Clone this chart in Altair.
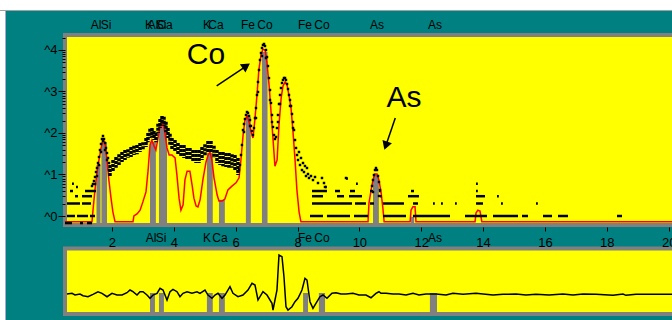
import altair as alt
import pandas as pd

FONT = "Liberation Sans"
TEAL, YELLOW, GRAY, RED = "#008080", "#ffff00", "#808080", "#ff0000"

# ---------------- scale limits (keV, log10 counts) ----------------
X_DOMAIN = [0.4818, 20.108]
V_DOMAIN = [-2.4096, 4.3614]
# residual panel: residual 0 sits at this log-count level, one residual unit = RES_STEP
RES_ZERO_V, RES_STEP = -1.880, 0.24096

x_tick_values = [2, 4, 6, 8, 10, 12, 14, 16, 18, 20]
y_major_values = [0, 1, 2, 3, 4]
y_minor_offsets = [0.301, 0.477, 0.602, 0.699, 0.778, 0.845, 0.903, 0.954]
y_tick_values = y_major_values + [d + o for d in [0, 1, 2, 3] for o in y_minor_offsets] + [4.301]

# ---------------- panels / window edges ----------------
top_strip = {"x1": [-2.5], "x2": [21.5], "y1": [4.952], "y2": [5.325]}
left_strip = {"x1": [-1.781], "x2": [-1.442], "y1": [-2.747], "y2": [4.952]}
main_box = {"x1": [0.482], "x2": [21.01], "y1": [-0.217], "y2": [4.361]}
lower_box = {"x1": [0.482], "x2": [21.01], "y1": [-2.361], "y2": [-0.783]}

# ---------------- fitted spectrum (red) ----------------
red_kev = [0.48, 1.355, 1.387, 1.45, 1.52, 1.58, 1.65, 1.71, 1.77, 1.84, 1.90, 1.97, 2.03, 2.10,
           2.68, 2.71, 2.81, 2.91, 3.00, 3.10, 3.17, 3.23, 3.29, 3.36, 3.42, 3.49, 3.55, 3.65,
           3.71, 3.78, 3.85, 3.94, 4.04, 4.10, 4.17, 4.23, 4.30, 4.36, 4.43, 4.52, 4.59, 4.65,
           4.72, 4.78, 4.85, 4.94, 5.04, 5.11, 5.17, 5.23, 5.30, 5.40, 5.46, 5.56, 5.65, 5.75,
           5.88, 6.01, 6.11, 6.17, 6.24, 6.30, 6.37, 6.43, 6.50, 6.56, 6.62, 6.69, 6.75, 6.82,
           6.88, 6.95, 7.01, 7.08, 7.14, 7.21, 7.27, 7.34, 7.40, 7.47, 7.53, 7.60, 7.66, 7.72,
           7.79, 7.85, 7.92, 7.98, 8.05, 8.11, 10.28, 10.31, 10.38, 10.44, 10.50, 10.57, 10.63,
           10.70, 10.76, 10.80, 11.64, 11.67, 11.73, 11.80, 11.83, 13.74, 13.77, 13.83, 13.90,
           13.96, 20.2]
red_v = [-0.14, -0.14, 0.14, 0.63, 1.06, 1.35, 1.64, 1.83, 1.78, 1.35, 0.87, 0.43, 0.10, -0.14,
         -0.14, 0.0, 0.05, 0.14, 0.34, 0.58, 1.11, 1.71, 1.83, 1.69, 1.59, 1.88, 2.14, 2.24,
         2.02, 1.64, 1.47, 1.47, 1.40, 0.99, 0.43, 0.14, 0.27, 0.87, 1.08, 1.08, 0.75, 0.43,
         0.24, 0.22, 0.39, 0.87, 1.30, 1.47, 1.54, 1.35, 0.92, 0.51, 0.36, 0.36, 0.41, 0.63,
         0.72, 0.80, 0.92, 1.35, 1.95, 2.31, 2.41, 2.27, 2.02, 1.88, 2.31, 2.92, 3.52, 3.88,
         4.02, 4.00, 3.71, 3.16, 2.55, 1.83, 1.20, 1.35, 2.19, 2.84, 3.13, 3.23, 3.16, 2.92,
         2.60, 2.07, 1.35, 0.63, 0.10, -0.14, -0.14, 0.31, 0.63, 0.87, 1.01, 1.01, 0.87,
         0.58, 0.19, -0.14, -0.14, 0.14, 0.22, 0.22, -0.14, -0.14, 0.07, 0.14, 0.12,
         -0.14, -0.14]

# ---------------- element line bars ----------------
bar_lo = [1.50, 1.66, 3.23, 3.52, 5.07, 5.46, 6.33, 6.85, 10.44, 11.67]
bar_hi = [1.63, 1.84, 3.42, 3.78, 5.26, 5.65, 6.49, 7.03, 10.63, 11.77]
bar_top = [1.23, 1.78, 1.78, 2.24, 1.52, 0.39, 2.39, 3.95, 0.99, -0.02]
bar_base = -0.17

lbar_lo = [3.23, 3.52, 5.07, 5.46, 8.18, 8.69, 12.28]
lbar_hi = [3.39, 3.68, 5.26, 5.65, 8.34, 8.89, 12.51]
lbar_top = [0.1, 0.1, 0.1, 0.1, 0.1, 0.1, 0.1]
lbar_base = [-1.8, -1.8, -1.8, -1.8, -1.8, -1.8, -1.8]

# ---------------- measured counts (black dots) ----------------
band_kev = [1.937, 2.034, 2.131, 2.228, 2.325, 2.422, 2.519, 2.616, 2.713, 2.810, 2.907, 3.004,
            3.101, 3.165, 3.230, 3.295, 3.359, 3.424, 3.489, 3.554, 3.618, 3.683, 3.747, 3.812,
            3.877, 3.941, 4.038, 4.135, 4.232, 4.329, 4.426, 4.523, 4.620, 4.717, 4.814, 4.911,
            5.008, 5.105, 5.202, 5.299, 5.396, 5.493, 5.590, 5.687, 5.784, 5.881, 5.978, 6.075]
band_hi = [1.23, 1.35, 1.42, 1.49, 1.54, 1.59, 1.61, 1.66, 1.69, 1.71, 1.76, 1.78,
           1.88, 2.00, 2.10, 2.12, 2.05, 2.00, 2.22, 2.34, 2.41, 2.39, 2.27, 2.12,
           1.98, 1.88, 1.83, 1.76, 1.71, 1.71, 1.64, 1.64, 1.59, 1.59, 1.59, 1.66,
           1.73, 1.81, 1.81, 1.69, 1.59, 1.54, 1.54, 1.52, 1.52, 1.49, 1.47, 1.40]
band_lo = [0.94, 1.06, 1.16, 1.23, 1.30, 1.35, 1.40, 1.42, 1.47, 1.49, 1.54, 1.59,
           1.66, 1.78, 1.88, 1.90, 1.83, 1.78, 2.00, 2.12, 2.22, 2.17, 2.02, 1.88,
           1.71, 1.59, 1.54, 1.47, 1.42, 1.40, 1.35, 1.35, 1.30, 1.28, 1.28, 1.35,
           1.45, 1.54, 1.54, 1.40, 1.28, 1.23, 1.20, 1.18, 1.16, 1.16, 1.11, 0.99]

rise_pts = [(1.355, 0.723), (1.387, 0.771), (1.419, 0.843), (1.452, 0.940), (1.484, 1.060),
            (1.516, 1.157), (1.549, 1.277), (1.581, 1.422), (1.613, 1.590), (1.646, 1.735),
            (1.678, 1.855), (1.710, 1.928), (1.743, 1.855), (1.775, 1.759), (1.807, 1.639),
            (1.840, 1.518), (1.872, 1.398), (1.904, 1.277), (1.452, 0.771), (1.516, 0.964),
            (1.581, 1.229), (1.646, 1.542), (1.710, 1.807), (1.775, 1.590), (1.840, 1.349),
            (1.904, 1.108)]
peak_pts = [(6.107, 1.108), (6.140, 1.229), (6.172, 1.470), (6.204, 1.711), (6.237, 2.072),
            (6.269, 2.217), (6.301, 2.337), (6.334, 2.434), (6.366, 2.506), (6.398, 2.482),
            (6.431, 2.410), (6.463, 2.313), (6.495, 2.169), (6.528, 2.048), (6.560, 1.952),
            (6.592, 2.120), (6.625, 2.361), (6.657, 2.602), (6.689, 2.916), (6.722, 3.229),
            (6.754, 3.518), (6.786, 3.759), (6.819, 3.928), (6.851, 4.048), (6.883, 4.120),
            (6.916, 4.145), (6.948, 4.096), (6.980, 4.000), (7.013, 3.831), (7.045, 3.614),
            (7.077, 3.325), (7.110, 3.036), (7.142, 2.723), (7.174, 2.434), (7.207, 2.145),
            (7.239, 1.952), (7.271, 1.855), (7.304, 1.904), (7.336, 2.120), (7.368, 2.434),
            (7.401, 2.699), (7.433, 2.916), (7.466, 3.084), (7.498, 3.205), (7.530, 3.277),
            (7.563, 3.325), (7.595, 3.325), (7.627, 3.277), (7.660, 3.181), (7.692, 3.060),
            (7.724, 2.916), (7.757, 2.795), (7.789, 2.651), (7.821, 2.458), (7.854, 2.265),
            (7.886, 2.072), (7.918, 1.831), (7.951, 1.639), (7.983, 1.470),
            (6.657, 2.361), (6.722, 2.988), (7.110, 2.795), (7.174, 2.265), (7.368, 2.265),
            (7.433, 2.699), (7.757, 2.651), (7.854, 2.120), (6.269, 2.024), (6.463, 2.169),
            (6.851, 3.855), (6.980, 3.807)]
tail_pts = [(8.015, 1.349), (8.047, 1.542), (8.080, 1.229), (8.112, 1.398), (8.144, 1.108),
            (8.177, 1.277), (8.209, 1.060), (8.241, 1.205), (8.274, 0.964), (8.306, 1.157),
            (8.338, 1.012), (8.371, 0.916), (8.435, 0.964), (8.500, 0.867), (8.565, 0.940),
            (8.662, 0.795), (8.791, 0.916), (8.856, 0.795), (9.567, 0.916), (8.888, 0.699)]
as_pts = [(10.408, 0.723), (10.440, 0.867), (10.472, 0.988), (10.505, 1.108), (10.537, 1.157),
          (10.569, 1.108), (10.602, 0.964), (10.634, 0.819), (10.666, 0.627), (10.440, 0.578),
          (10.634, 0.482)]

# quantised low-count rows: (log10 count, from keV, to keV)
count_rows = [
    (-0.17, 0.482, 0.708), (-0.17, 0.967, 1.064), (-0.17, 1.193, 1.355),
    (0.0, 0.546, 0.805), (0.0, 0.870, 1.225), (0.0, 1.290, 1.452),
    (0.0, 8.403, 8.823), (0.0, 8.952, 9.696), (0.0, 9.826, 10.278), (0.0, 10.763, 11.507),
    (0.0, 11.734, 12.930), (0.0, 13.415, 14.127), (0.0, 14.321, 15.129), (0.0, 15.258, 15.452),
    (0.0, 15.937, 16.228), (0.0, 16.422, 16.745), (0.0, 18.330, 18.491),
    (0.301, 0.546, 0.967), (0.301, 1.032, 1.322),
    (0.301, 8.468, 9.761), (0.301, 9.858, 10.213), (0.301, 10.343, 10.472), (0.301, 10.763, 11.442),
    (0.301, 11.734, 11.895), (0.301, 12.380, 12.440), (0.301, 12.639, 12.700), (0.301, 13.092, 13.150),
    (0.301, 13.771, 13.997), (0.301, 14.579, 14.640), (0.301, 15.711, 15.770),
    (0.477, 0.805, 0.902), (0.477, 1.032, 1.355),
    (0.477, 8.468, 8.823), (0.477, 9.276, 9.502), (0.477, 9.664, 10.084), (0.477, 10.666, 10.720),
    (0.477, 11.572, 11.928), (0.477, 13.771, 14.062), (0.477, 14.450, 14.510),
    (0.602, 0.643, 0.740), (0.602, 1.128, 1.484),
    (0.602, 8.468, 8.952), (0.602, 9.211, 9.373), (0.602, 9.696, 9.858), (0.602, 10.343, 10.440),
    (0.602, 10.634, 10.690), (0.602, 11.669, 11.766), (0.602, 13.771, 13.830),
    (0.699, 0.838, 0.900), (0.699, 8.888, 8.950),
    (0.778, 0.708, 0.770), (0.778, 9.891, 9.950), (0.778, 13.771, 13.830),
    (0.903, 9.567, 9.630),
]

# ---------------- residual (lower panel) ----------------
res_kev = [0.546, 0.708, 0.805, 0.967, 1.064, 1.225, 1.387, 1.549, 1.678, 1.840,
           2.001, 2.163, 2.325, 2.486, 2.583, 2.680, 2.810, 2.907, 3.004, 3.133,
           3.230, 3.327, 3.457, 3.554, 3.651, 3.780, 3.877, 3.974, 4.103, 4.200,
           4.297, 4.426, 4.588, 4.749, 4.846, 5.008, 5.105, 5.234, 5.331, 5.428,
           5.558, 5.655, 5.816, 5.913, 6.075, 6.236, 6.398, 6.528, 6.625, 6.722,
           6.883, 7.013, 7.174, 7.207, 7.336, 7.401, 7.498, 7.562, 7.627, 7.692,
           7.821, 7.918, 8.015, 8.144, 8.241, 8.306, 8.403, 8.500, 8.629, 8.726,
           8.823, 8.952, 9.114, 9.243, 9.405, 9.567, 9.793, 9.987, 10.213, 10.375,
           10.536, 10.633, 10.698, 10.860, 11.087, 11.281, 11.507, 11.734, 11.928, 12.154,
           12.478, 12.801, 13.027, 13.351, 13.771, 13.997, 14.321, 14.644, 15.064, 15.388,
           15.711, 16.132, 16.583, 16.907, 17.230, 17.651, 18.200, 18.524, 18.621, 18.944,
           20.2]
res_r = [0.0, 0.07, -0.1, 0.0, -0.17, -0.27, -0.03, 0.23, 0.07, -0.27,
         0.07, -0.1, -0.1, 0.13, 0.4, 0.23, -0.1, 0.23, 0.23, -0.1,
         -0.43, -0.1, 0.07, 0.57, 0.4, -0.6, 0.23, 0.47, 0.23, -0.27,
         0.07, 0.23, 0.07, 0.23, 0.07, 0.4, -0.1, -0.43, -0.1, 0.07,
         -0.43, -0.1, 0.73, 0.07, -0.27, -0.1, 0.4, 1.07, 0.9, -0.6,
         0.23, -0.1, -0.93, -1.6, 0.4, 3.9, 3.73, 1.73, -1.27, -1.6,
         -1.27, -0.77, -0.43, 0.4, 1.57, 1.4, -0.77, -1.43, -0.77, -0.27,
         -0.1, -0.43, 0.07, 0.13, 0.0, 0.0, 0.07, -0.1, -0.1, -0.37,
         0.07, 0.23, 0.07, 0.07, 0.0, 0.0, -0.1, 0.07, -0.1, 0.0,
         0.0, -0.1, 0.07, -0.03, 0.07, 0.0, -0.1, -0.03, 0.0, -0.1,
         -0.03, -0.1, 0.0, -0.1, 0.0, -0.03, -0.13, 0.0, -0.13, -0.03,
         -0.03]

# ---------------- labels and annotations ----------------
top_label_text = ["Al", "Si", "K", "Al", "Si", "Ca", "K", "Ca", "Fe", "Co", "Fe", "Co", "As", "As"]
top_label_kev = [1.484, 1.807, 3.198, 3.327, 3.586, 3.715, 5.073, 5.364, 6.398, 6.948,
                 8.241, 8.791, 10.569, 12.444]
bot_label_text = ["Al", "Si", "K", "Ca", "Fe", "Co", "As"]
bot_label_kev = [3.262, 3.586, 5.073, 5.493, 8.241, 8.791, 12.444]
TOP_ROW_V, BOT_ROW_V = 4.506, -0.627

note_text = ["Co", "As"]
note_kev = [5.040, 11.442]
note_v = [3.663, 2.627]

arrow_from_kev = [5.386, 11.161]
arrow_from_v = [3.133, 2.361]
arrow_to_kev = [6.343, 10.854]
arrow_to_v = [3.614, 1.694]
arrow_angle = [56, 199]

# ---------------- scales and axes (identical in every layer) ----------------
xs = alt.Scale(domain=X_DOMAIN, nice=False, zero=False)
ys = alt.Scale(domain=V_DOMAIN, nice=False, zero=False)

is_major = "datum.value == round(datum.value)"
x_axis = alt.Axis(values=x_tick_values, orient="bottom", offset=-89, domain=False, grid=False,
                  tickSize=4, tickColor="black", tickWidth=1, labelFont=FONT, labelFontSize=13,
                  labelColor="black", labelPadding=5, labelFlush=False, labelOverlap=False,
                  title=None, zindex=1)
y_axis = alt.Axis(values=y_tick_values, orient="left", domain=False, grid=False,
                  tickSize=7, tickColor="black", tickWidth=1,
                  tickDash={"condition": {"test": is_major, "value": [7, 0]}, "value": [3, 20]},
                  labelExpr=f"{is_major} ? '^' + datum.value : ''",
                  labelFont=FONT, labelFontSize=13, labelColor="black", labelPadding=1,
                  labelFlush=False, labelOverlap=False, title=None, zindex=1)


def X(f):
    return alt.X(f, type="quantitative", scale=xs, axis=x_axis)


def Y(f):
    return alt.Y(f, type="quantitative", scale=ys, axis=y_axis)


main_rect = alt.Chart(pd.DataFrame(main_box)).mark_rect(fill=YELLOW, stroke=GRAY, strokeWidth=4).encode(
    x=X("x1"), x2="x2", y=Y("y1"), y2="y2")
strip_top = alt.Chart(pd.DataFrame(top_strip)).mark_rect(fill="white", stroke="#a0a0a0", strokeWidth=1).encode(
    x=X("x1"), x2="x2", y=Y("y1"), y2="y2")
strip_left = alt.Chart(pd.DataFrame(left_strip)).mark_rect(fill="white", stroke="#a8a8d8", strokeWidth=1).encode(
    x=X("x1"), x2="x2", y=Y("y1"), y2="y2")
lower_rect = alt.Chart(pd.DataFrame(lower_box)).mark_rect(fill=YELLOW, stroke=GRAY, strokeWidth=4).encode(
    x=X("x1"), x2="x2", y=Y("y1"), y2="y2")

bars = alt.Chart(pd.DataFrame({"x1": bar_lo, "x2": bar_hi, "top": bar_top})).mark_rect(color=GRAY).encode(
    x=X("x1"), x2="x2", y=Y("top"), y2=alt.datum(bar_base))

red = alt.Chart(pd.DataFrame({"kev": red_kev, "v": red_v})).mark_line(color=RED, strokeWidth=1.5).encode(
    x=X("kev"), y=Y("v"))

band = alt.Chart(pd.DataFrame({"kev": band_kev, "hi": band_hi, "lo": band_lo})).mark_rule(
    color="black", strokeWidth=3.5, strokeDash=[3, 1]).encode(x=X("kev"), y=Y("hi"), y2="lo")

rows_df = pd.DataFrame(count_rows, columns=["v", "x1", "x2"])
rows = alt.Chart(rows_df).mark_rule(color="black", strokeWidth=2.5).encode(x=X("x1"), x2="x2", y=Y("v"))

pts_df = pd.DataFrame(rise_pts + peak_pts + tail_pts + as_pts, columns=["kev", "v"])
pts = alt.Chart(pts_df).mark_square(color="black", size=6, opacity=1).encode(x=X("kev"), y=Y("v"))

top_df = pd.DataFrame({"t": top_label_text, "kev": top_label_kev})
top_df["v"] = TOP_ROW_V
bot_df = pd.DataFrame({"t": bot_label_text, "kev": bot_label_kev})
bot_df["v"] = BOT_ROW_V
lab_style = dict(font=FONT, fontSize=12, baseline="alphabetic", align="center", color="black")
top_labels = alt.Chart(top_df).mark_text(**lab_style).encode(x=X("kev"), y=Y("v"), text="t:N")
bot_labels = alt.Chart(bot_df).mark_text(**lab_style).encode(x=X("kev"), y=Y("v"), text="t:N")

notes = alt.Chart(pd.DataFrame({"t": note_text, "kev": note_kev, "v": note_v})).mark_text(
    font=FONT, fontSize=30, baseline="alphabetic", align="center", color="black").encode(
    x=X("kev"), y=Y("v"), text="t:N")

arr_df = pd.DataFrame({"x1": arrow_from_kev, "y1": arrow_from_v, "x2": arrow_to_kev,
                       "y2": arrow_to_v, "ang": arrow_angle})
shafts = alt.Chart(arr_df).mark_rule(color="black", strokeWidth=1.5).encode(
    x=X("x1"), y=Y("y1"), x2="x2", y2="y2")
heads = alt.Chart(arr_df).mark_point(shape="triangle-up", filled=True, size=100, color="black",
                                     opacity=1, strokeWidth=0).encode(
    x=X("x2"), y=Y("y2"), angle=alt.Angle("ang:Q", scale=None))

to_panel = f"{RES_ZERO_V} + {RES_STEP} * "
lower_bars = alt.Chart(pd.DataFrame({"x1": lbar_lo, "x2": lbar_hi, "top": lbar_top, "base": lbar_base})
                       ).transform_calculate(
    vt=to_panel + "datum.top", vb=to_panel + "datum.base").mark_rect(color=GRAY).encode(
    x=X("x1"), x2="x2", y=Y("vt"), y2="vb:Q")
residual = alt.Chart(pd.DataFrame({"kev": res_kev, "r": res_r})).transform_calculate(
    v=to_panel + "datum.r").mark_line(color="black", strokeWidth=1.5).encode(
    x=X("kev"), y=Y("v"))

chart = alt.layer(
    main_rect, strip_left, strip_top, lower_rect,
    bars, red, band, rows, pts, top_labels, bot_labels, notes, shafts, heads,
    lower_bars, residual,
).properties(
    width=607, height=281,
    autosize=alt.AutoSizeParams(type="none"),
    padding={"left": 65, "top": 35, "right": 0, "bottom": 4},
    background=TEAL,
).configure_view(stroke=None)

chart.save("out.html", embed_options={"renderer": "svg", "actions": False})
